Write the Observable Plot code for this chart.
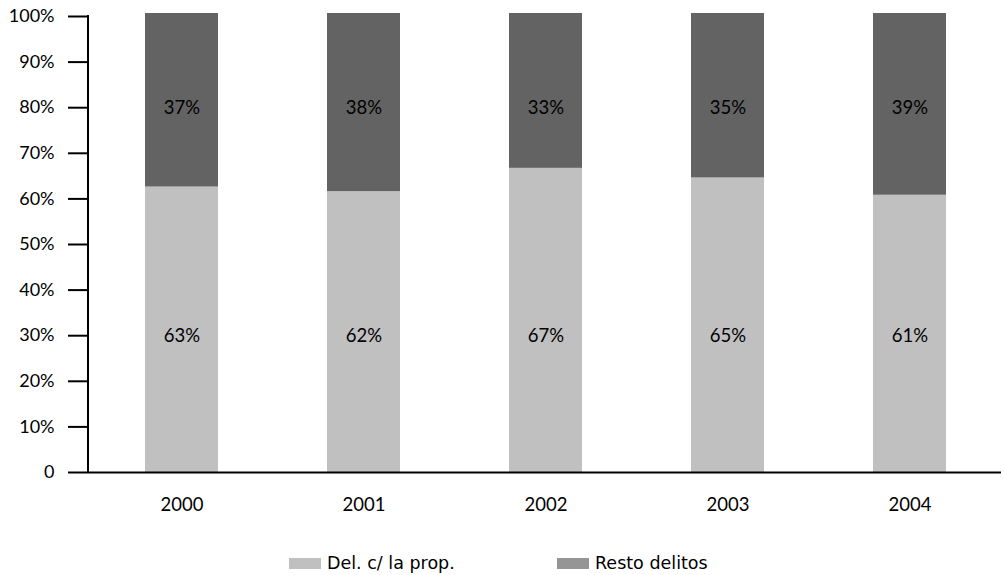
<!DOCTYPE html>
<html>
<head>
<meta charset="utf-8">
<script src="https://cdn.jsdelivr.net/npm/d3@7"></script>
<script src="https://cdn.jsdelivr.net/npm/@observablehq/plot@0.6"></script>
<style>
  html, body { margin: 0; padding: 0; background: #fff; }
  #chart svg { display: block; }
  .legend { position: relative; height: 45px; font-family: "DejaVu Sans", sans-serif; font-size: 17.5px; color: #000; }
  .item { position: absolute; top: 23px; display: flex; align-items: center; }
  .sw { width: 32px; height: 11px; margin-right: 6px; }
</style>
</head>
<body>
<div id="chart"></div>
<div class="legend" id="legend"></div>
<script>
const years = ["2000", "2001", "2002", "2003", "2004"];
const seriesNames = ["Del. c/ la prop.", "Resto delitos"];
const propValues = [0.626, 0.616, 0.667, 0.646, 0.608];
const restoValues = [0.374, 0.384, 0.333, 0.354, 0.392];
const yTicks = [0, 0.1, 0.2, 0.3, 0.4, 0.5, 0.6, 0.7, 0.8, 0.9, 1];

const colors = { light: "#c0c0c0", dark: "#636363", darkLegend: "#959595" };
const font = "Lato, 'Open Sans', sans-serif";

const rows = years.map((y, i) => ({ year: y, prop: propValues[i], resto: restoValues[i] }));
const pct = v => Math.round(v * 100) + "%";

const W = 1004, H = 530;
const mLeft = 88;
const plot = Plot.plot({
  width: W,
  height: H,
  marginLeft: mLeft,
  marginRight: 3,
  marginTop: 16,
  marginBottom: H - 472,
  style: { fontFamily: font, fontSize: "18px", color: "#000", background: "#fff" },
  x: { domain: years, range: [90, 1001], paddingInner: 0.6, paddingOuter: 0.3, label: null },
  y: { domain: [0, 1], label: null },
  marks: [
    Plot.barY(rows, { x: "year", y1: 0, y2: "prop", fill: colors.light }),
    Plot.barY(rows, { x: "year", y1: "prop", y2: d => d.prop + d.resto, fill: colors.dark, insetTop: -3 }),
    Plot.text(rows, { x: "year", y: 0.8, text: d => pct(d.resto), fill: "#000", fontSize: 18.5 }),
    Plot.text(rows, { x: "year", y: 0.3, text: d => pct(d.prop), fill: "#000", fontSize: 18.5 }),
    Plot.axisY({ ticks: yTicks, tickSize: 20, tickPadding: 14, strokeWidth: 2, stroke: "#000",
      tickFormat: d => d === 0 ? "0" : d3.format(".0%")(d), fontSize: 18, label: null }),
    Plot.axisX({ tickSize: 0, tickPadding: 25, fontSize: 18.5, label: null }),
    Plot.ruleY([0], { stroke: "#000", strokeWidth: 2 })
  ]
});
// vertical y-axis line, positioned through the plot's own y scale
const ys = plot.scale("y");
d3.select(plot).append("line")
  .attr("x1", mLeft).attr("x2", mLeft)
  .attr("y1", ys.apply(0) + 1).attr("y2", ys.apply(1) - 1)
  .attr("stroke", "#000").attr("stroke-width", 2);
document.getElementById("chart").appendChild(plot);

const legend = document.getElementById("legend");
const legendItems = [
  { name: seriesNames[0], color: colors.light, left: 289 },
  { name: seriesNames[1], color: colors.darkLegend, left: 557 }
];
legendItems.forEach(it => {
  const d = document.createElement("div");
  d.className = "item";
  d.style.left = it.left + "px";
  const s = document.createElement("span");
  s.className = "sw";
  s.style.background = it.color;
  const t = document.createElement("span");
  t.textContent = it.name;
  d.appendChild(s); d.appendChild(t);
  legend.appendChild(d);
});
</script>
</body>
</html>
